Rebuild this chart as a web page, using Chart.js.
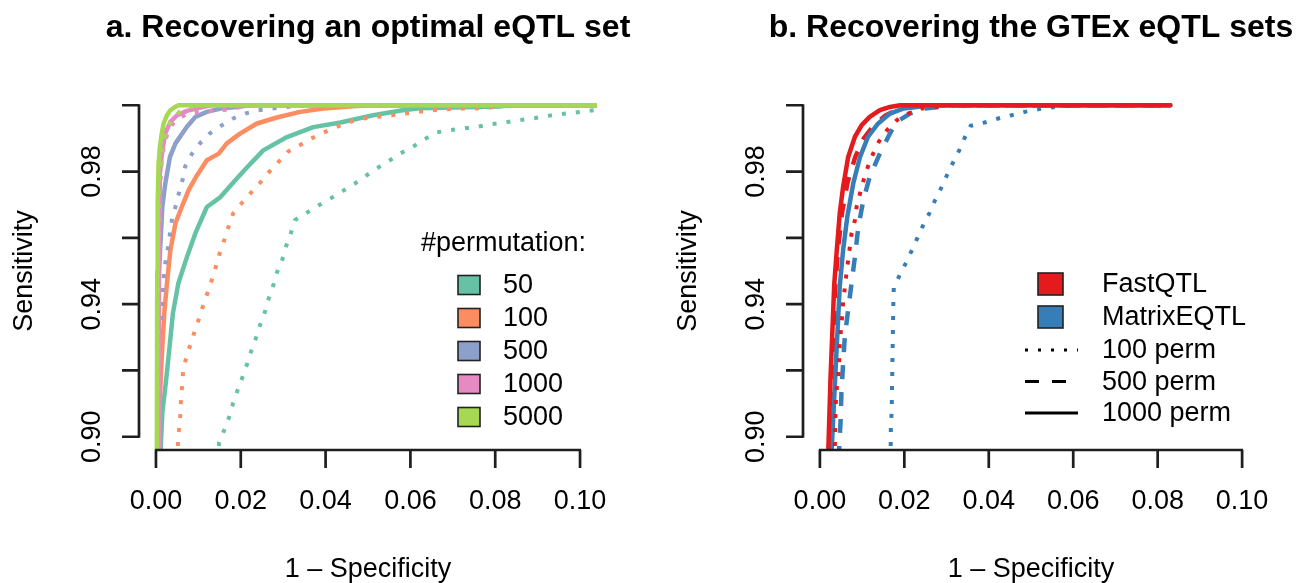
<!DOCTYPE html>
<html>
<head>
<meta charset="utf-8">
<script src="https://cdn.jsdelivr.net/npm/chart.js@4.4.1/dist/chart.umd.min.js"></script>
<style>
  html, body { margin: 0; padding: 0; background: #fff; }
  #wrap { position: relative; width: 1305px; height: 583px; overflow: hidden; }
  canvas { position: absolute; top: 0; }
  #ca { left: 0; }
  #cb { left: 652px; }
</style>
</head>
<body>
<div id="wrap">
  <canvas id="ca" width="652" height="583"></canvas>
  <canvas id="cb" width="653" height="583"></canvas>
</div>
<script>
/* ── Data (x = 1 - specificity, y = sensitivity) ── */

const X_TICKS = [0, 0.02, 0.04, 0.06, 0.08, 0.10];
const Y_TICKS = [0.90, 0.92, 0.94, 0.96, 0.98, 1.00];
const Y_LABELED = [0.90, 0.94, 0.98];

const PERMS = ['50', '100', '500', '1000', '5000'];
const SET2 = ['#66C2A5', '#FC8D62', '#8DA0CB', '#E78AC3', '#A6D854'];

// panel a, solid curves
const A50_SOLID = [[0.0009,0.893],[0.0011,0.8961],[0.0015,0.9072],[0.0024,0.9172],[0.0032,0.9271],[0.004,0.9373],[0.0053,0.9464],[0.0073,0.9542],[0.0093,0.9614],[0.012,0.9693],[0.0152,0.9723],[0.0187,0.9774],[0.0215,0.9813],[0.0253,0.9864],[0.0309,0.9904],[0.0371,0.9934],[0.0435,0.9948],[0.0512,0.997],[0.0582,0.9985],[0.0622,0.9991],[0.081,0.9996],[0.083,1.0],[0.104,1.0]];
const A100_SOLID = [[0.0004,0.893],[0.0006,0.9],[0.0008,0.9072],[0.0012,0.92],[0.0015,0.9271],[0.002,0.938],[0.0026,0.9463],[0.0034,0.9563],[0.0046,0.9644],[0.0058,0.9684],[0.0077,0.9744],[0.0097,0.9789],[0.012,0.9834],[0.0148,0.9854],[0.0167,0.9885],[0.0199,0.9915],[0.0238,0.9945],[0.0285,0.9963],[0.034,0.998],[0.0395,0.999],[0.0465,0.9997],[0.051,1.0],[0.104,1.0]];
const A500_SOLID = [[0.0005,0.893],[0.0006,0.92],[0.0007,0.948],[0.0011,0.9593],[0.0015,0.9694],[0.0022,0.9764],[0.0033,0.9844],[0.0046,0.9885],[0.0062,0.9915],[0.0073,0.9935],[0.0093,0.9965],[0.012,0.998],[0.0152,0.999],[0.0191,0.9995],[0.022,1.0],[0.104,1.0]];
const A1000_SOLID = [[0.0006,0.893],[0.0007,0.95],[0.0008,0.965],[0.0009,0.979],[0.0015,0.9864],[0.0022,0.9915],[0.0034,0.995],[0.005,0.997],[0.0073,0.9983],[0.0105,0.9993],[0.013,1.0],[0.104,1.0]];
const A5000_SOLID = [[0.0002,0.893],[0.0003,0.95],[0.0004,0.97],[0.0006,0.982],[0.0009,0.987],[0.0013,0.991],[0.0018,0.9945],[0.0026,0.997],[0.0034,0.9985],[0.0045,0.9995],[0.0053,1.0],[0.104,1.0]];

// panel a, dotted curves
const A50_DOT = [[0.0145,0.893],[0.0149,0.8983],[0.0162,0.9023],[0.0173,0.9061],[0.0182,0.9102],[0.0193,0.9142],[0.0204,0.918],[0.0215,0.922],[0.0225,0.926],[0.0236,0.9299],[0.0246,0.9339],[0.0257,0.9377],[0.0266,0.9418],[0.0277,0.9458],[0.0285,0.9495],[0.0298,0.9535],[0.0307,0.9575],[0.0318,0.9614],[0.0328,0.9654],[0.0356,0.9676],[0.0385,0.9699],[0.0412,0.9719],[0.044,0.9741],[0.0468,0.9763],[0.0495,0.9787],[0.052,0.9809],[0.0549,0.9832],[0.0577,0.9855],[0.0605,0.9874],[0.0634,0.9898],[0.0662,0.9918],[0.0693,0.9925],[0.0726,0.993],[0.0757,0.9935],[0.0789,0.9943],[0.0822,0.9948],[0.0855,0.9955],[0.0888,0.996],[0.0919,0.9967],[0.0952,0.9973],[0.0983,0.9977],[0.1015,0.9982],[0.104,0.9986]];
const A100_DOT = [[0.0051,0.893],[0.0052,0.8989],[0.0055,0.9031],[0.0058,0.9073],[0.0059,0.9114],[0.0062,0.9157],[0.0064,0.9199],[0.0071,0.9237],[0.0081,0.9277],[0.0091,0.9317],[0.0102,0.9358],[0.0111,0.9395],[0.0122,0.9436],[0.0132,0.9474],[0.0142,0.9516],[0.015,0.9553],[0.0161,0.9593],[0.0171,0.9633],[0.0182,0.9674],[0.0203,0.9706],[0.0224,0.9736],[0.0246,0.9767],[0.0267,0.9799],[0.0289,0.9829],[0.031,0.9859],[0.034,0.988],[0.0367,0.99],[0.0396,0.9918],[0.0426,0.9935],[0.0456,0.995],[0.0489,0.996],[0.052,0.9965],[0.0554,0.997],[0.0585,0.9975],[0.0618,0.998],[0.065,0.9985],[0.0684,0.9988],[0.0715,0.999],[0.078,0.9991],[0.0815,1.0],[0.104,1.0]];
const A500_DOT = [[0.0005,0.893],[0.0007,0.92],[0.0009,0.93],[0.0012,0.9367],[0.0015,0.9407],[0.0016,0.9453],[0.0022,0.9523],[0.003,0.9583],[0.0034,0.9623],[0.0038,0.9659],[0.0046,0.9694],[0.0055,0.9739],[0.0063,0.9776],[0.0069,0.9816],[0.0085,0.9854],[0.0105,0.9887],[0.0127,0.9915],[0.0156,0.994],[0.0182,0.996],[0.0211,0.9975],[0.0242,0.9985],[0.0273,0.999],[0.0309,0.9995],[0.035,1.0],[0.104,1.0]];
const A1000_DOT = [[0.0007,0.893],[0.0008,0.95],[0.0009,0.97],[0.0012,0.981],[0.0018,0.987],[0.0028,0.992],[0.0045,0.9955],[0.0075,0.9975],[0.012,0.9982],[0.016,0.9986],[0.019,0.9992],[0.022,1.0],[0.104,1.0]];
const A5000_DOT = [[0.0003,0.893],[0.0005,0.96],[0.0008,0.978],[0.0015,0.987],[0.0022,0.991],[0.003,0.994],[0.0042,0.996],[0.0055,0.998],[0.0075,0.9993],[0.0095,1.0],[0.104,1.0]];

// panel b
const FAST_100 = [[0.0035,0.893],[0.0036,0.9034],[0.0038,0.9117],[0.0041,0.9159],[0.0045,0.92],[0.0047,0.9282],[0.005,0.9324],[0.0053,0.9367],[0.0055,0.9407],[0.0059,0.9448],[0.0063,0.9493],[0.0067,0.9533],[0.0071,0.9573],[0.0075,0.9614],[0.0083,0.9654],[0.0087,0.9694],[0.0095,0.9734],[0.0104,0.9776],[0.0114,0.9816],[0.0126,0.9854],[0.014,0.9891],[0.0159,0.9925],[0.0182,0.9955],[0.0209,0.9975],[0.024,0.999],[0.0276,0.9995],[0.03,1.0],[0.083,1.0]];
const FAST_500 = [[0.0026,0.893],[0.0029,0.92],[0.0036,0.945],[0.0044,0.958],[0.0053,0.968],[0.0066,0.977],[0.0084,0.9845],[0.0104,0.99],[0.0128,0.994],[0.0156,0.997],[0.019,0.999],[0.0235,0.9997],[0.028,1.0],[0.083,1.0]];
const FAST_1000 = [[0.0019,0.893],[0.002,0.8961],[0.0025,0.9172],[0.0034,0.946],[0.004,0.9563],[0.0047,0.9674],[0.0055,0.9754],[0.0067,0.9844],[0.0083,0.9905],[0.0099,0.994],[0.0118,0.9965],[0.0142,0.9985],[0.0166,0.9995],[0.019,1.0],[0.083,1.0]];
const MEQTL_100 = [[0.0167,0.893],[0.0168,0.8991],[0.0168,0.9034],[0.017,0.9074],[0.0171,0.9159],[0.0172,0.9242],[0.0173,0.9324],[0.0174,0.9407],[0.0175,0.9449],[0.0189,0.9488],[0.0204,0.9525],[0.0218,0.9563],[0.0231,0.96],[0.0245,0.9639],[0.026,0.9676],[0.0273,0.9714],[0.0288,0.9752],[0.0301,0.9789],[0.0315,0.9826],[0.033,0.9864],[0.0343,0.9902],[0.0357,0.9938],[0.039,0.9948],[0.0422,0.996],[0.0454,0.997],[0.0485,0.998],[0.0517,0.9988],[0.056,0.9995],[0.06,1.0],[0.083,1.0]];
const MEQTL_500 = [[0.0045,0.893],[0.0046,0.8976],[0.0049,0.9046],[0.0051,0.9132],[0.0055,0.9222],[0.0059,0.9302],[0.0067,0.9383],[0.0075,0.9463],[0.0083,0.9543],[0.0091,0.9633],[0.0103,0.9714],[0.0118,0.9784],[0.0142,0.9854],[0.0166,0.9915],[0.0182,0.995],[0.0213,0.9975],[0.0245,0.999],[0.0284,0.9995],[0.032,1.0],[0.083,1.0]];
const MEQTL_1000 = [[0.0027,0.893],[0.0028,0.8961],[0.0036,0.9172],[0.0047,0.9453],[0.0055,0.9563],[0.0065,0.9664],[0.0079,0.9764],[0.0095,0.9844],[0.0114,0.9905],[0.0138,0.9945],[0.0166,0.9975],[0.0197,0.999],[0.0229,0.9995],[0.026,1.0],[0.083,1.0]];

const METHODS = ['FastQTL', 'MatrixEQTL'];
const METHOD_COLORS = ['#E41A1C', '#377EB8'];
const PERM_LINES = ['100 perm', '500 perm', '1000 perm'];

/* ── Helpers ── */

const FONT = '"Liberation Sans", Arial, Helvetica, sans-serif';
const DOT = [4, 10];
const DASH = [14, 13];

function line(data, color, dash) {
  return {
    data, borderColor: color, borderWidth: dash === DOT ? 4 : 4.5,
    borderDash: dash || [], borderCapStyle: dash ? 'butt' : 'round', borderJoinStyle: 'round',
    pointRadius: 0, fill: false, tension: 0, clip: 0
  };
}

// R-style axes: line only spans first..last tick, outward ticks
const rAxes = {
  id: 'rAxes',
  afterDraw(chart, args, o) {
    const { ctx, chartArea: a, scales: { x, y } } = chart;
    ctx.save();
    ctx.strokeStyle = '#1e1e1e';
    ctx.lineWidth = 2.7;
    ctx.beginPath();
    ctx.moveTo(x.getPixelForValue(X_TICKS[0]) - 1, a.bottom);
    ctx.lineTo(x.getPixelForValue(X_TICKS[X_TICKS.length - 1]) + 1, a.bottom);
    X_TICKS.forEach(v => { const p = x.getPixelForValue(v); ctx.moveTo(p, a.bottom); ctx.lineTo(p, a.bottom + 18); });
    ctx.moveTo(a.left, y.getPixelForValue(Y_TICKS[0]) + 1);
    ctx.lineTo(a.left, y.getPixelForValue(Y_TICKS[Y_TICKS.length - 1]) - 1);
    Y_TICKS.forEach(v => { const p = y.getPixelForValue(v); ctx.moveTo(a.left, p); ctx.lineTo(a.left - 17, p); });
    ctx.stroke();

    ctx.fillStyle = '#000';
    ctx.font = '27px ' + FONT;
    ctx.textAlign = 'center';
    ctx.textBaseline = 'alphabetic';
    X_TICKS.forEach(v => ctx.fillText(v.toFixed(2), x.getPixelForValue(v), a.bottom + 59));
    Y_LABELED.forEach(v => {
      ctx.save();
      ctx.translate(a.left - 39, y.getPixelForValue(v));
      ctx.rotate(-Math.PI / 2);
      ctx.fillText(v.toFixed(2), 0, 0);
      ctx.restore();
    });
    const cx = (a.left + a.right) / 2;
    ctx.fillText('1 \u2013 Specificity', cx, a.bottom + 127);
    ctx.save();
    ctx.translate(a.left - 107, (a.top + a.bottom) / 2);
    ctx.rotate(-Math.PI / 2);
    ctx.fillText('Sensitivity', 0, 0);
    ctx.restore();

    ctx.font = 'bold 32px ' + FONT;
    ctx.fillText(o.title, cx, a.top - 55);
    if (o.legend) o.legend(ctx);
    ctx.restore();
  }
};

function legendA(ctx) {
  ctx.font = '27px ' + FONT;
  ctx.textAlign = 'left';
  ctx.fillText('#permutation:', 421, 251);
  ctx.textBaseline = 'middle';
  ctx.lineWidth = 1.6;
  ctx.strokeStyle = '#222';
  PERMS.forEach((p, i) => {
    const cy = 285 + i * 33;
    ctx.fillStyle = SET2[i];
    ctx.fillRect(458, cy - 9.5, 22, 19);
    ctx.strokeRect(458, cy - 9.5, 22, 19);
    ctx.fillStyle = '#000';
    ctx.fillText(p, 503, cy + 1);
  });
}

function legendB(ctx) {
  const off = 652;
  ctx.font = '27px ' + FONT;
  ctx.textAlign = 'left';
  ctx.textBaseline = 'middle';
  METHODS.forEach((m, i) => {
    const cy = 284 + i * 33;
    ctx.fillStyle = METHOD_COLORS[i];
    ctx.lineWidth = 1.6;
    ctx.strokeStyle = '#222';
    ctx.fillRect(1038 - off, cy - 11, 25, 22);
    ctx.strokeRect(1038 - off, cy - 11, 25, 22);
    ctx.fillStyle = '#000';
    ctx.fillText(m, 1102 - off, cy + 1);
  });
  const dashes = [[3, 10], [14, 13], []];
  PERM_LINES.forEach((t, i) => {
    const cy = 350 + i * 31.5;
    ctx.strokeStyle = '#000';
    ctx.lineWidth = 3.2;
    ctx.lineCap = 'butt';
    ctx.setLineDash(dashes[i]);
    ctx.beginPath();
    ctx.moveTo(1025 - off, cy);
    ctx.lineTo(1078 - off, cy);
    ctx.stroke();
    ctx.setLineDash([]);
    ctx.fillText(t, 1102 - off, cy + 1);
  });
}

function makePanel(id, datasets, padding, title, legend) {
  return new Chart(document.getElementById(id), {
    type: 'line',
    data: { datasets },
    options: {
      responsive: false, animation: false, devicePixelRatio: 1, events: [],
      layout: { padding },
      scales: {
        x: { type: 'linear', min: -0.004, max: 0.104, display: false },
        y: { type: 'linear', min: 0.896, max: 1.004, display: false }
      },
      plugins: { legend: { display: false }, tooltip: { enabled: false }, rAxes: { title, legend } }
    },
    plugins: [rAxes]
  });
}

/* ── Panel a ── */
const aSolid = [A50_SOLID, A100_SOLID, A500_SOLID, A1000_SOLID, A5000_SOLID];
const aDot = [A50_DOT, A100_DOT, A500_DOT, A1000_DOT, A5000_DOT];
const dsA = [];
PERMS.forEach((p, i) => {
  dsA.push(line(aDot[i], SET2[i], DOT));
  dsA.push(line(aSolid[i], SET2[i]));
});
// Chart.js paints index 0 last, so reverse to keep R's drawing order
makePanel('ca', dsA.reverse(), { left: 139, top: 92, right: 55, bottom: 133 },
  'a. Recovering an optimal eQTL set', legendA);

/* ── Panel b ── */
const dsB = [
  line(MEQTL_100, METHOD_COLORS[1], DOT),
  line(FAST_500, METHOD_COLORS[0], DASH),
  line(MEQTL_500, METHOD_COLORS[1], DASH),
  line(MEQTL_1000, METHOD_COLORS[1]),
  line(FAST_100, METHOD_COLORS[0], DOT),
  line(FAST_1000, METHOD_COLORS[0])
];
makePanel('cb', dsB.reverse(), { left: 151, top: 92, right: 46, bottom: 133 },
  'b. Recovering the GTEx eQTL sets', legendB);
</script>
</body>
</html>
